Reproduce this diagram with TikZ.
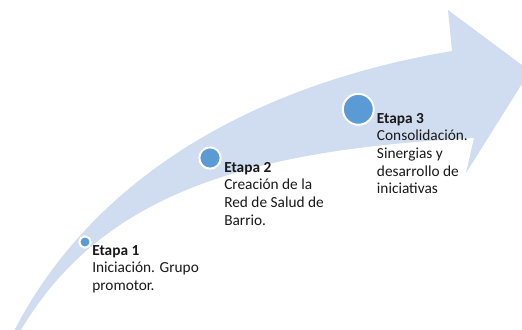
\documentclass[tikz,border=0pt]{standalone}
\usepackage{fontspec}
\setmainfont{Carlito}
\definecolor{flecha}{RGB}{208,220,239}
\definecolor{punto}{RGB}{91,155,213}
\definecolor{letra}{RGB}{25,25,25}
\tikzset{
  etapa/.style={circle,fill=punto,draw=white,line width=1.5pt,inner sep=0pt},
  texto/.style={anchor=north west,align=left,inner sep=1.5pt,
    text=letra,font=\fontsize{11.5pt}{13.2pt}\selectfont}
}
\begin{document}
\begin{tikzpicture}[x=0.75pt,y=-0.75pt]
\useasboundingbox (0,0) rectangle (522,329);
% flecha curva
\fill[flecha] (12,335) .. controls (90,180) and (250,85) .. (452,51)
  -- (448,10) -- (530,71) -- (466,173) -- (474,138)
  .. controls (250,150) and (100,192) .. (18,335) -- cycle;
% textos
\node[texto] (t1) at (90,243) {\textbf{Etapa 1}\\Iniciación. Grupo\\promotor.};
\node[texto] (t2) at (222,160) {\textbf{Etapa 2}\\Creación de la\\Red de Salud de\\Barrio.};
\node[texto] (t3) at (374.7,111) {\textbf{Etapa 3}\\Consolidación.\\Sinergias y\\desarrollo de\\iniciativas};
% puntos
\foreach \n/\x/\y/\s in {1/85/242/8.5pt, 2/210/158/16pt, 3/358.3/109.3/23.2pt}
  \node[etapa,minimum size=\s] (c\n) at (\x,\y) {};
\end{tikzpicture}
\end{document}
